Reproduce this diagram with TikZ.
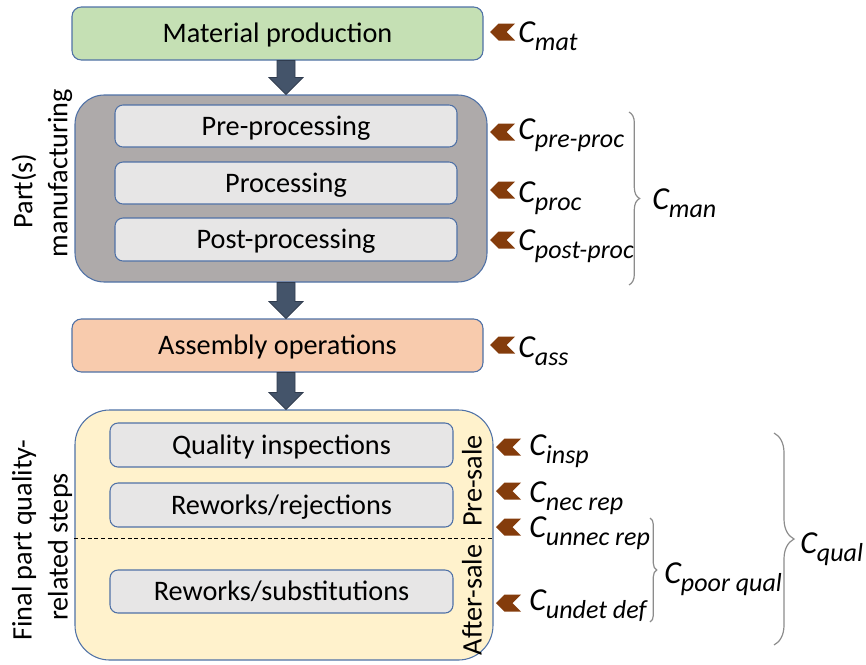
\documentclass[tikz,border=0pt]{standalone}
\usepackage{fontspec}
\setmainfont{Carlito}
\usetikzlibrary{calc,decorations.pathreplacing}
\definecolor{bord}{HTML}{4F71A6}
\definecolor{matfill}{HTML}{C5E0B4}
\definecolor{manfill}{HTML}{AEAAAA}
\definecolor{innerfill}{HTML}{E7E6E6}
\definecolor{assfill}{HTML}{F8CBAD}
\definecolor{qualfill}{HTML}{FFF2CC}
\definecolor{arrfill}{HTML}{44546A}
\definecolor{arrline}{HTML}{2F3B4E}
\definecolor{chevc}{HTML}{843C0C}
\definecolor{bracec}{HTML}{8C8C8C}
\newcommand\Clab[1]{{\fontsize{24}{26}\selectfont\itshape C}\raisebox{-6.5pt}{\fontsize{19.5}{21}\selectfont\itshape #1}}
\begin{document}
\begin{tikzpicture}[x=0.75pt,y=-0.75pt,
  font=\fontsize{21.2}{25}\selectfont,
  box/.style={draw=bord, line width=0.8pt, inner sep=0pt, text height=18pt, text depth=4.5pt},
  outerbox/.style={box, fill=#1, rounded corners=7pt, minimum width=308.25pt, minimum height=39.75pt},
  bigbox/.style={box, fill=#1, rounded corners=22pt},
  innerbox/.style={box, fill=innerfill, rounded corners=6pt},
  blockarrow/.style={fill=arrfill, draw=arrline, line width=0.6pt, line join=miter},
  clabel/.style={anchor=base west, inner sep=0pt},
  sidetext/.style={rotate=90, inner sep=0pt},
  bracepath/.style={draw=bracec, line width=0.9pt, decorate, decoration={brace, amplitude=#1}},
  chevron/.pic={\fill[chevc] (-12.5,0) -- (-4,-8.5) -- (12.5,-8.5) -- (4,0) -- (12.5,8.5) -- (-4,8.5) -- cycle;}
]
\useasboundingbox (0,0) rectangle (866,664);

% main boxes
\node[outerbox=matfill] (mat) at (277.5,33.5) {Material production};
\node[bigbox=manfill, minimum width=309pt, minimum height=140.25pt] (man) at (281,188.5) {};
\node[innerbox, minimum width=256.5pt, minimum height=31.5pt] (pre) at (286,126) {Pre-processing};
\node[innerbox, minimum width=256.5pt, minimum height=31.5pt] (proc) at (286,183) {Processing};
\node[innerbox, minimum width=256.5pt, minimum height=32.25pt] (post) at (286,239.5) {Post-processing};
\node[outerbox=assfill] (ass) at (277.5,345.5) {Assembly operations};
\node[bigbox=qualfill, rounded corners=26pt, minimum width=313.5pt, minimum height=187.5pt] (qual) at (284,535) {};
\node[innerbox, minimum width=257.25pt, minimum height=33pt] (insp) at (281.5,445) {Quality inspections};
\node[innerbox, minimum width=257.25pt, minimum height=33pt] (nec) at (281.5,505) {Reworks/rejections};
\node[innerbox, minimum width=257.25pt, minimum height=32.25pt] (subst) at (281.5,591.5) {Reworks/substitutions};
\draw[line width=0.7pt, dash pattern=on 3pt off 2pt] (qual.west |- 0,538) -- (492,538);

% side texts
\node[sidetext] (t1) at (24,191) {Part(s)};
\node[sidetext] (t2) at (60,173) {manufacturing};
\node[sidetext] (t3) at (24,540) {Final part quality-};
\node[sidetext] (t4) at (60,547) {related steps};
\node[sidetext] (presale) at (472,481) {Pre-sale};
\node[sidetext] (aftersale) at (472,600) {After-sale};

% block arrows
\foreach \a/\b in {mat/man, man/ass, ass/qual}{
  \draw[blockarrow]
    ($(\a.south -| pre.center)+(-9,0)$) -- ($(\b.north -| pre.center)+(-9,-17)$)
    -- ++(-8,0) -- (\b.north -| pre.center) -- ($(\b.north -| pre.center)+(17,-17)$)
    -- ++(-8,0) -- ($(\a.south -| pre.center)+(9,0)$) -- cycle;
}

% chevrons
\foreach \x/\y in {502.5/32, 502.5/132, 502.5/190, 502.5/240, 502.5/345, 508.5/447, 508.5/491, 508.5/527, 508.5/603}{
  \pic at (\x,\y) {chevron};
}

% cost labels
\node[clabel] (cmat) at (518,42) {\Clab{mat}};
\node[clabel] (cpre) at (518,139) {\Clab{pre-proc}};
\node[clabel] (cproc) at (518,202) {\Clab{proc}};
\node[clabel] (cpost) at (518,250) {\Clab{post-proc}};
\node[clabel] (cass) at (518,357) {\Clab{ass}};
\node[clabel] (cinsp) at (529,455) {\Clab{insp}};
\node[clabel] (cnec) at (529,502) {\Clab{nec rep}};
\node[clabel] (cunnec) at (529,537) {\Clab{unnec rep}};
\node[clabel] (cundet) at (529,610) {\Clab{undet def}};

% braces
\draw[bracepath=8pt] (629,112) -- (629,285);
\node[clabel] (cman) at (652,209) {\Clab{man}};
\draw[bracepath=5pt] (650,518) -- (650,622);
\node[clabel] (cpoor) at (664,583) {\Clab{poor qual}};
\draw[bracepath=15pt] (774,433) -- (774,645);
\node[clabel] (cqual) at (800,553) {\Clab{qual}};
\end{tikzpicture}
\end{document}
